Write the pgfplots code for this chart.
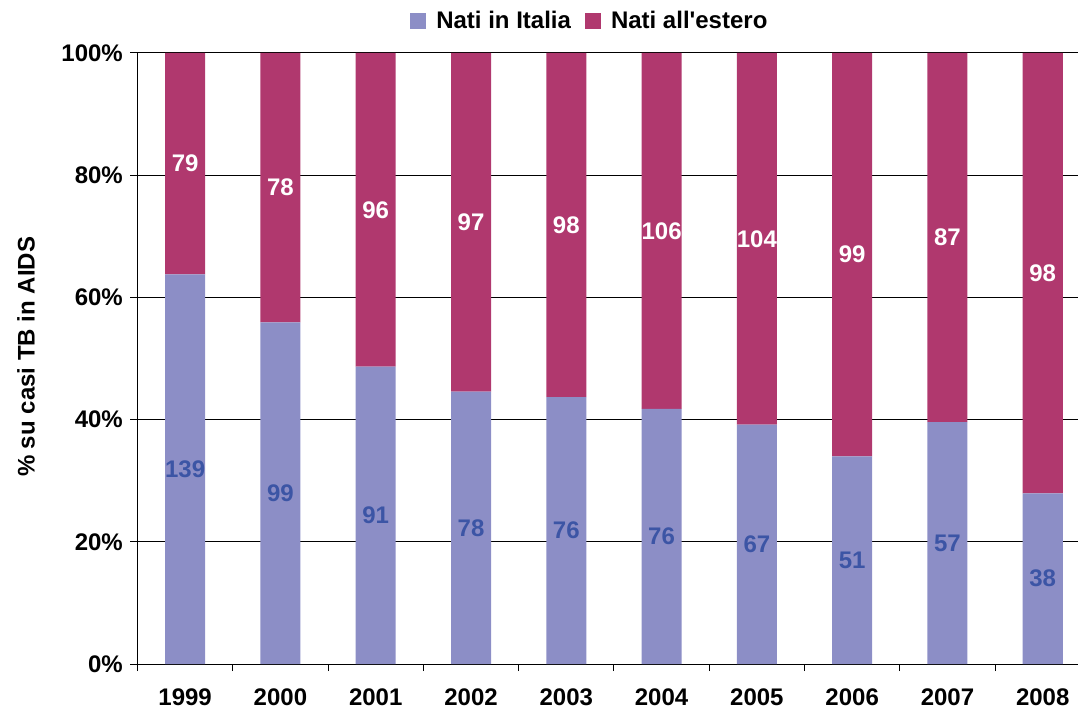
\documentclass[border=0pt]{standalone}
\usepackage{pgfplots}
\pgfplotsset{compat=1.18}
\usepackage{pgfplotstable}
\usepackage{fontspec}
\setmainfont{Liberation Sans}[Ligatures=TeXOff]
\definecolor{itcol}{RGB}{140,142,198}
\definecolor{escol}{RGB}{176,56,110}
\definecolor{ittxt}{RGB}{60,85,165}
\pgfplotstableread{
x it es itm esm itn esn
0 63.76 36.24 31.88 81.88 139 79
1 55.93 44.07 27.97 77.97 99 78
2 48.66 51.34 24.33 74.33 91 96
3 44.57 55.43 22.29 72.29 78 97
4 43.68 56.32 21.84 71.84 76 98
5 41.76 58.24 20.88 70.88 76 106
6 39.18 60.82 19.59 69.59 67 104
7 34.00 66.00 17.00 67.00 51 99
8 39.58 60.42 19.79 69.79 57 87
9 27.94 72.06 13.97 63.97 38 98
}\data
\begin{document}
\fontsize{24}{28}\selectfont
\begin{tikzpicture}
\useasboundingbox (-137.5pt,-48pt) rectangle (940.5pt,664pt);
\begin{axis}[
  at={(0,0)}, anchor=south west,
  scale only axis, width=940.5pt, height=611pt,
  xmin=-0.5, xmax=9.37, ymin=0, ymax=100,
  ybar stacked, bar width=40pt,
  axis lines*=left,
  axis line style={black, line width=1pt},
  xtick={0,...,9},
  xticklabels={1999,2000,2001,2002,2003,2004,2005,2006,2007,2008},
  minor xtick={-0.5,0.5,...,9.5},
  major x tick style={draw=none},
  minor x tick style={black, line width=1pt},
  minor tick length=7pt,
  ytick={0,20,40,60,80,100},
  yticklabels={0\%,20\%,40\%,60\%,80\%,100\%},
  y tick style={black, line width=1pt},
  major tick length=7pt,
  tick align=outside,
  ymajorgrids,
  major grid style={black, line width=1pt},
  extra y ticks={100},
  extra y tick labels={},
  extra y tick style={grid style={gray, line width=2pt}, major tick length=0pt},
  ticklabel style={font=\fontsize{24}{28}\selectfont\bfseries},
  yticklabel style={anchor=east, inner sep=0pt, xshift=-7.5pt},
  xticklabel style={anchor=center, inner sep=0pt, yshift=-26.5pt},
  ylabel={\% su casi TB in AIDS},
  ylabel style={at={(axis description cs:-0.1186,0.5025)}, anchor=center, font=\fontsize{24}{28}\selectfont\bfseries},
  legend columns=2,
  legend style={draw=none, fill=none, at={(0.481,1.052)}, anchor=center,
    font=\fontsize{24}{28}\selectfont\bfseries,
    /tikz/every odd column/.append style={column sep=8pt},
    /tikz/every even column/.append style={column sep=12pt},
    inner sep=0pt},
  legend image code/.code={\fill[#1,draw=none] (0pt,-8pt) rectangle (16pt,8pt);},
]
\addplot[fill=itcol, draw=none] table[x=x, y=it] {\data};
\addlegendentry{Nati in Italia}
\addplot[fill=escol, draw=none] table[x=x, y=es] {\data};
\addlegendentry{Nati all'estero}
\end{axis}
\begin{axis}[
  at={(0,0)}, anchor=south west,
  scale only axis, width=940.5pt, height=611pt,
  xmin=-0.5, xmax=9.37, ymin=0, ymax=100,
  hide axis,
]
\addplot[draw=none, mark=none, nodes near coords, point meta=explicit symbolic,
  every node near coord/.append style={anchor=center, text=ittxt, font=\fontsize{24}{28}\selectfont\bfseries}]
  table[x=x, y=itm, meta=itn] {\data};
\addplot[draw=none, mark=none, nodes near coords, point meta=explicit symbolic,
  every node near coord/.append style={anchor=center, text=white, font=\fontsize{24}{28}\selectfont\bfseries}]
  table[x=x, y=esm, meta=esn] {\data};
\end{axis}
\end{tikzpicture}
\end{document}
